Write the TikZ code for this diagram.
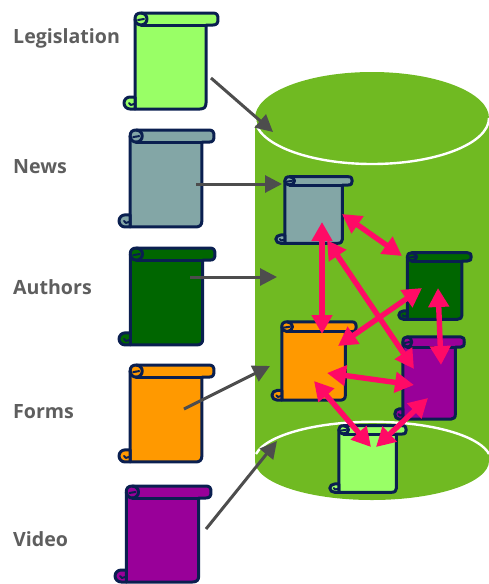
\documentclass[tikz,border=0pt]{standalone}
\usepackage{fontspec}
\setmainfont{Open Sans}
\usetikzlibrary{arrows.meta}
\definecolor{cyl}{HTML}{70BA22}
\definecolor{ink}{HTML}{0A1F50}
\definecolor{lgreen}{HTML}{99FF66}
\definecolor{slate}{HTML}{83A6A6}
\definecolor{dgreen}{HTML}{006600}
\definecolor{orng}{HTML}{FF9900}
\definecolor{purp}{HTML}{990099}
\definecolor{graytxt}{HTML}{5E5E5E}
\definecolor{grayarrow}{HTML}{4D4D4D}
\definecolor{pink}{HTML}{FF0A66}
\tikzset{
  x=1pt,y=-1pt,
  scrollline/.style={draw=ink,line width=3pt,line join=round,line cap=round},
  caption/.style={anchor=base west,text=graytxt,font=\fontsize{19.6}{22}\selectfont\bfseries,inner sep=0pt},
  feed/.style={draw=grayarrow,line width=3pt,-{Triangle[width=17pt,length=17pt]}},
  link/.style={draw=pink,line width=5.4pt,{Triangle[width=20pt,length=19pt]}-{Triangle[width=20pt,length=19pt]}},
  anchorbox/.style={inner sep=0pt,outer sep=0pt},
}
% name, left, right, top, bottom, colour
\newcommand\myscroll[6]{%
  \pgfmathsetmacro\sx{(#3-#2)/96}%
  \pgfmathsetmacro\sy{(#5-#4)/98}%
  \begin{scope}[shift={(#2,#4)},x=\sx pt,y=-\sy pt]
    \path[scrollline,fill=#6] (12,7) .. controls (12,3) and (14,1) .. (18,1) -- (90,1)
      .. controls (94,1) and (95,3) .. (95,7) .. controls (95,11) and (94,13) .. (90,13)
      -- (83,13) -- (83,91) .. controls (83,95) and (81,97) .. (77,97) -- (12,97) -- (12,85) -- cycle;
    \path[scrollline,fill=#6] (7,85) .. controls (3.7,85) and (1,87.7) .. (1,91)
      .. controls (1,94.3) and (3.7,97) .. (7,97) -- (12,97) -- (12,85) -- cycle;
    \path[scrollline] (18,13) -- (83,13);
    \path[scrollline] (18,13) .. controls (14.7,13) and (12,10.3) .. (12,7);
    \path[scrollline] (18,13) .. controls (21.3,13) and (24,10.3) .. (24,7) .. controls (24,3.7) and (21.3,1) .. (18,1);
    \path[scrollline,line width=2pt] (15,8) -- (21,7);
    \path[scrollline,line width=2pt] (11,92) .. controls (9,94) and (6,93) .. (6,91);
  \end{scope}
  \node[anchorbox,minimum width={(#3-#2)*1pt},minimum height={(#5-#4)*1pt}] (#1) at ({(#2+#3)/2},{(#4+#5)/2}) {};%
}
\begin{document}
\begin{tikzpicture}
\useasboundingbox (0,0) rectangle (489,584);
% cylinder
\fill[cyl] (255,118) arc[start angle=180,end angle=0,x radius=117pt,y radius=46pt]
  -- (489,461) arc[start angle=0,end angle=-180,x radius=117pt,y radius=39pt] -- cycle;
\draw[white,line width=2.4pt] (255,118) arc[start angle=180,end angle=360,x radius=117pt,y radius=46pt];
\draw[white,line width=2.4pt] (256,454) arc[start angle=170,end angle=10,x radius=118.3pt,y radius=39pt];
% captions
\node[caption] (capLeg) at (13,43) {Legislation};
\node[caption] (capNews) at (13,173) {News};
\node[caption] (capAuth) at (13,294) {Authors};
\node[caption] (capForms) at (13,418) {Forms};
\node[caption] (capVideo) at (13,546) {Video};
% source scrolls
\myscroll{srcLeg}{123}{219}{12}{110}{lgreen}
\myscroll{srcNews}{118}{215}{129}{228}{slate}
\myscroll{srcAuth}{118}{216}{247}{346}{dgreen}
\myscroll{srcForms}{118}{215}{364}{463}{orng}
\myscroll{srcVideo}{114}{212}{485}{583}{purp}
% stored scrolls
\myscroll{dbNews}{275}{353}{176}{244}{slate}
\myscroll{dbAuth}{398}{472}{252}{320}{dgreen}
\myscroll{dbForms}{271}{357}{321}{401}{orng}
\myscroll{dbVideo}{394}{465}{336}{420}{purp}
\myscroll{dbLeg}{329}{407}{425}{493}{lgreen}
% connector ends
\coordinate (a1) at (211,78);  \coordinate (b1) at (273,132);
\coordinate (a2) at (196,184); \coordinate (b2) at (282,184);
\coordinate (a3) at (190,277); \coordinate (b3) at (277,277);
\coordinate (a4) at (184,409); \coordinate (b4) at (270,366);
\coordinate (a5) at (206,529); \coordinate (b5) at (277,441);
\draw[feed] (a1) -- (b1);
\draw[feed] (a2) -- (b2);
\draw[feed] (a3) -- (b3);
\draw[feed] (a4) -- (b4);
\draw[feed] (a5) -- (b5);
\coordinate (p1) at (342,214); \coordinate (q1) at (402,256);
\coordinate (p2) at (322,222); \coordinate (q2) at (322,334);
\coordinate (p3) at (327,240); \coordinate (q3) at (414,369);
\coordinate (p4) at (422,288); \coordinate (q4) at (338,346);
\coordinate (p5) at (438,288); \coordinate (q5) at (441,365);
\coordinate (p6) at (327,373); \coordinate (q6) at (414,385);
\coordinate (p7) at (314,381); \coordinate (q7) at (371,447);
\coordinate (p8) at (428,398); \coordinate (q8) at (376,447);
\draw[link] (p1) -- (q1);
\draw[link] (p2) -- (q2);
\draw[link] (p3) -- (q3);
\draw[link] (p4) -- (q4);
\draw[link] (p5) -- (q5);
\draw[link] (p6) -- (q6);
\draw[link] (p7) -- (q7);
\draw[link] (p8) -- (q8);
\end{tikzpicture}
\end{document}
